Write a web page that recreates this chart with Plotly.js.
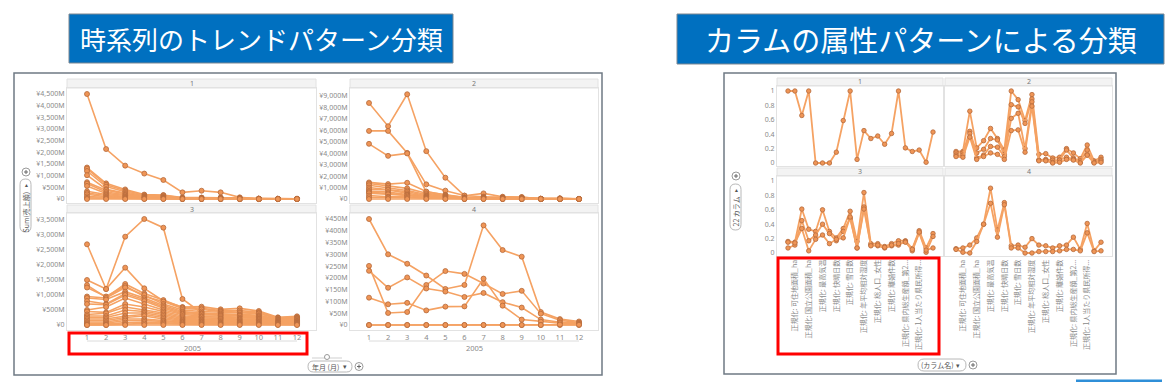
<!DOCTYPE html>
<html><head><meta charset="utf-8">
<script src="https://cdn.plot.ly/plotly-3.0.1.min.js"></script>
<style>html,body{margin:0;padding:0;background:#fff;}#chart{width:1175px;height:382px;}</style>
</head><body><div id="chart"></div>
<script>
// ---------- DATA ----------
const titleLeft = '時系列のトレンドパターン分類';
const titleRight = 'カラムの属性パターンによる分類';
const panelLabels = ['1', '2', '3', '4'];
const months = [1,2,3,4,5,6,7,8,9,10,11,12];
const yearLabel = '2005';
const leftAxisLabel = 'Sum(売上額)';
const leftAxisControl = '年月 (月)';
const rightAxisLabel = '22 カラム';
const rightAxisControl = '(カラム名)';

// monthly sales, million yen, cluster 1..4
const sales1 = [
  [4500,2140,1430,1090,815,285,355,285,70,10,10,10],
  [1350,670,410,190,170,60,60,60,40,20,10,10],
  [1300,610,360,160,150,50,50,50,30,10,10,10],
  [1200,530,310,130,120,45,45,45,25,10,5,5],
  [1020,420,260,110,90,35,35,35,20,5,5,5],
  [720,380,220,90,70,25,25,25,15,5,5,5],
  [660,300,180,75,60,20,20,20,10,5,0,0],
  [560,240,150,60,50,15,15,15,10,0,0,0],
  [330,190,110,50,40,10,10,10,5,0,0,0],
  [260,150,80,40,30,10,10,10,5,0,0,0],
  [200,100,60,30,20,5,5,5,0,0,0,0],
  [110,60,40,20,15,5,5,5,0,0,0,0],
  [50,30,20,10,10,0,0,0,0,0,0,0],
  [0,0,0,0,0,0,0,0,0,0,0,0]
];
const sales2 = [
  [8390,6360,9150,4180,1860,290,490,200,170,0,60,0],
  [5950,5950,4030,1280,730,300,200,150,150,30,40,20],
  [4820,3770,3980,620,360,150,150,100,100,20,30,10],
  [1450,1300,1420,650,350,120,120,90,80,20,20,10],
  [1350,1150,930,500,300,100,100,80,60,10,20,10],
  [1200,1000,750,400,250,80,80,70,50,10,10,5],
  [1000,850,640,300,200,60,70,60,40,5,10,5],
  [850,780,500,250,150,50,60,50,30,5,5,5],
  [700,600,400,200,120,40,50,40,20,0,5,0],
  [600,490,350,150,100,30,40,30,20,0,0,0],
  [500,400,300,120,80,20,30,20,10,0,0,0],
  [300,200,200,80,60,10,20,10,5,0,0,0],
  [150,120,100,50,40,5,10,5,0,0,0,0],
  [0,0,0,0,0,0,0,0,0,0,0,0]
];
const sales3 = [
  [2690,1200,2944,3533,3244,867,400,330,300,250,150,150],
  [1500,1200,1911,1222,800,600,611,522,555,467,255,289],
  [1330,920,1367,1050,830,580,560,480,480,430,240,260],
  [1250,950,1300,950,780,550,520,450,430,400,220,240],
  [950,900,1250,1000,700,500,450,420,400,380,200,220],
  [900,850,1111,900,650,450,400,380,350,330,180,200],
  [800,700,1050,850,600,420,380,350,320,300,170,180],
  [700,678,1000,800,560,380,350,320,300,280,150,160],
  [500,600,900,700,500,350,300,300,250,250,130,140],
  [450,420,700,600,450,300,280,260,220,220,120,120],
  [350,389,600,500,400,260,250,220,200,200,100,110],
  [300,300,500,450,350,220,200,200,180,180,90,100],
  [250,250,400,400,300,180,180,160,150,150,80,80],
  [200,200,300,350,250,150,150,130,120,120,70,70],
  [150,150,250,300,200,120,120,100,100,100,60,60],
  [100,100,200,200,150,100,100,80,80,80,50,50],
  [60,60,150,150,120,80,80,60,60,60,40,40],
  [30,30,80,100,80,50,50,40,40,40,20,20],
  [0,0,30,50,40,20,20,20,20,20,10,10],
  [0,0,0,0,0,0,0,0,0,0,0,0]
];
const sales4 = [
  [450,300,260,210,153,170,423,318,290,55,25,15],
  [251,51,55,170,229,217,176,132,145,48,20,10],
  [230,158,202,155,142,119,136,97,74,23,12,8],
  [116,88,94,62,78,79,197,82,23,14,8,5],
  [0,0,0,0,0,0,0,0,0,0,0,0],
  [0,0,0,0,0,0,0,0,0,0,2,1]
];
const salesTicks1 = [0,500,1000,1500,2000,2500,3000,3500,4000,4500];
const salesTicks2 = [0,1000,2000,3000,4000,5000,6000,7000,8000,9000];
const salesTicks3 = [0,500,1000,1500,2000,2500,3000,3500];
const salesTicks4 = [0,50,100,150,200,250,300,350,400,450];

// normalized column attributes, 22 columns
const columnNames = [
  '正規化: 総面積_ha','正規化: 可住地面積_ha','正規化: 森林面積_ha','正規化: 国立公園面積_ha',
  '正規化: 平均気温','正規化: 最高気温','正規化: 最低気温','正規化: 快晴日数',
  '正規化: 曇天日数','正規化: 雪日数','正規化: 年間降水量','正規化: 年平均相対湿度',
  '正規化: 総人口_男性','正規化: 総人口_女性','正規化: 婚姻件数','正規化: 離婚件数',
  '正規化: 県内総生産額_第1次産業','正規化: 県内総生産額_第2次産業','正規化: 県内総生産額_第3次産業',
  '正規化: 1人当たり県民所得_千円','正規化: 消費者物価指数','正規化: 完全失業率'
];
const columnTickText = [
  '正規化: 可住地面積_ha','正規化: 国立公園面積_ha','正規化: 最高気温','正規化: 快晴日数',
  '正規化: 雪日数','正規化: 年平均相対湿度','正規化: 総人口_女性','正規化: 離婚件数',
  '正規化: 県内総生産額_第2...','正規化: 1人当たり県民所得...'
];
const columnTickNames = [columnNames[1],columnNames[3],columnNames[5],columnNames[7],columnNames[9],
  columnNames[11],columnNames[13],columnNames[15],columnNames[17],columnNames[19]];
const norm1 = [
  [1,1,0.66,1,0,0,0,0.15,0.59,1,0.05,0.45,0.34,0.375,0.26,0.41,1,0.21,0.16,0.18,0.01,0.43]
];
const norm2 = [
  [0.16,0.16,0.72,0.21,0.31,0.48,0.34,0.18,1.00,0.88,0.59,0.95,0.12,0.13,0.07,0.08,0.20,0.14,0.06,0.25,0.03,0.08],
  [0.14,0.14,0.44,0.14,0.19,0.34,0.32,0.12,0.81,0.78,0.55,0.89,0.04,0.05,0.04,0.04,0.18,0.07,0.03,0.18,0.01,0.05],
  [0.11,0.11,0.41,0.07,0.11,0.23,0.22,0.09,0.62,0.69,0.20,0.85,0.04,0.04,0.01,0.04,0.08,0.05,0.01,0.11,0.01,0.03],
  [0.09,0.08,0.36,0.05,0.09,0.14,0.12,0.05,0.45,0.46,0.15,0.79,0.03,0.03,0.00,0.01,0.05,0.04,0.00,0.11,0.00,0.01]
];
const norm3 = [
  [0.16,0.15,0.61,0.33,0.30,0.60,0.30,0.21,0.34,0.58,0.16,0.84,0.13,0.13,0.09,0.13,0.17,0.17,0.06,0.31,0.07,0.27],
  [0.07,0.11,0.45,0.17,0.25,0.40,0.27,0.17,0.30,0.48,0.07,0.64,0.11,0.10,0.07,0.10,0.11,0.16,0.03,0.28,0.01,0.23],
  [0.15,0.14,0.34,0.03,0.19,0.25,0.13,0.19,0.21,0.50,0.07,0.61,0.10,0.11,0.08,0.11,0.13,0.15,0.05,0.29,0.04,0.07]
];
const norm4 = [
  [0.06,0.07,0.11,0.21,0.40,0.90,0.32,0.70,0.10,0.11,0.08,0.20,0.11,0.10,0.07,0.10,0.11,0.22,0.05,0.41,0.03,0.15],
  [0.05,0.01,0.00,0.16,0.40,0.69,0.22,0.67,0.07,0.07,0.00,0.00,0.02,0.02,0.02,0.03,0.05,0.05,0.03,0.28,0.02,0.03]
];
const normTicks = [0,0.2,0.4,0.6,0.8,1];
const normTickText = ['0','0.2','0.4','0.6','0.8','1'];

// ---------- STYLE / LAYOUT ----------
const W = 1175, H = 382;
const fx = p => p / W, fy = p => 1 - p / H;
const LINE = '#F5A263', MFILL = '#EF9556', MEDGE = '#B56A3B';
const FONT = '"Noto Sans", "Noto Sans CJK JP", sans-serif';
const JP = '"Noto Sans CJK JP", sans-serif';
const TICKC = '#8a8a8a';
function lin(v0, p0, v1, p1, pa, pb) { const k = (v1 - v0) / (p1 - p0); return [v0 + (pa - p0) * k, v0 + (pb - p0) * k]; }
const yen = v => v === 0 ? '¥0' : '¥' + v.toLocaleString('en-US') + 'M';

const traces = [];
function addSeries(list, xs, xa, ya, msize, lw) {
  list.forEach(s => traces.push({
    x: xs, y: s, xaxis: xa, yaxis: ya, type: 'scatter', mode: 'lines+markers',
    line: { color: LINE, width: lw }, marker: { size: msize, color: MFILL, line: { color: MEDGE, width: 0.8 } },
    showlegend: false, hoverinfo: 'skip'
  }));
}
addSeries(sales1, months, 'x', 'y', 5, 1.6);
addSeries(sales2, months, 'x2', 'y2', 5, 1.6);
addSeries(sales3, months, 'x3', 'y3', 5, 1.6);
addSeries(sales4, months, 'x4', 'y4', 5, 1.6);
addSeries(norm1, columnNames, 'x5', 'y5', 4.5, 1.8);
addSeries(norm2, columnNames, 'x6', 'y6', 4.5, 1.8);
addSeries(norm3, columnNames, 'x7', 'y7', 4.5, 1.8);
addSeries(norm4, columnNames, 'x8', 'y8', 4.5, 1.8);

const frame = { showline: true, mirror: true, linecolor: '#e2e2e2', linewidth: 1, showgrid: false, zeroline: false, ticks: '', fixedrange: true };
function xa(l, r, range, anchor, extra) { return Object.assign({}, frame, { domain: [fx(l), fx(r)], range: range, anchor: anchor, showticklabels: false }, extra || {}); }
function ya(t, b, range, anchor, extra) { return Object.assign({}, frame, { domain: [fy(b), fy(t)], range: range, anchor: anchor, showticklabels: false }, extra || {}); }
const yenTicks = tv => ({ showticklabels: true, tickvals: tv, ticktext: tv.map(yen), tickfont: { family: FONT, size: 7, color: TICKC } });
const monthTicks = { showticklabels: true, tickvals: months, ticktext: months.map(String), tickfont: { family: FONT, size: 7.5, color: TICKC } };
const normYTicks = { showticklabels: true, tickvals: normTicks, ticktext: normTickText, tickfont: { family: FONT, size: 7, color: TICKC } };
const colXTicks = { showticklabels: true, type: 'category', tickvals: columnTickNames, ticktext: columnTickText, tickangle: -90, tickfont: { family: JP, size: 7, color: TICKC } };

const xL1 = lin(1, 87, 12, 297, 67, 316), xL2 = lin(1, 369, 12, 579, 350, 598);
const xR1 = lin(0, 788, 21, 933, 777, 943), xR2 = lin(0, 956, 21, 1101, 945, 1112);

const layout = {
  width: W, height: H, margin: { l: 0, r: 0, t: 0, b: 0 }, paper_bgcolor: '#fff', plot_bgcolor: '#fff', showlegend: false,
  xaxis: xa(67, 316, xL1, 'y'),
  yaxis: ya(88, 203, lin(0, 199, 4500, 94, 203, 88), 'x', yenTicks(salesTicks1)),
  xaxis2: xa(350, 598, xL2, 'y2'),
  yaxis2: ya(88, 203, lin(0, 199, 9000, 96, 203, 88), 'x2', yenTicks(salesTicks2)),
  xaxis3: xa(67, 316, xL1, 'y3', monthTicks),
  yaxis3: ya(213, 330, lin(0, 325, 3500, 220, 330, 213), 'x3', yenTicks(salesTicks3)),
  xaxis4: xa(350, 598, xL2, 'y4', monthTicks),
  yaxis4: ya(213, 330, lin(0, 325, 450, 219, 330, 213), 'x4', yenTicks(salesTicks4)),
  xaxis5: xa(777, 943, xR1, 'y5', { type: 'category' }),
  yaxis5: ya(86, 166, lin(0, 163, 1, 91, 166, 86), 'x5', normYTicks),
  xaxis6: xa(945, 1112, xR2, 'y6', { type: 'category' }),
  yaxis6: ya(86, 166, lin(0, 163, 1, 91, 166, 86), 'x6'),
  xaxis7: xa(777, 943, xR1, 'y7', colXTicks),
  yaxis7: ya(176, 256, lin(0, 253, 1, 181, 256, 176), 'x7', normYTicks),
  xaxis8: xa(945, 1112, xR2, 'y8', colXTicks),
  yaxis8: ya(176, 256, lin(0, 253, 1, 181, 256, 176), 'x8'),
  shapes: [], annotations: []
};

const S = layout.shapes, A = layout.annotations;
function rect(x0, y0, x1, y1, fill, line, lw) { S.push({ type: 'rect', xref: 'paper', yref: 'paper', x0: fx(x0), x1: fx(x1), y0: fy(y1), y1: fy(y0), fillcolor: fill, line: { color: line, width: lw }, layer: 'below' }); }
function seg(x0, y0, x1, y1, c, w) { S.push({ type: 'line', xref: 'paper', yref: 'paper', x0: fx(x0), x1: fx(x1), y0: fy(y0), y1: fy(y1), line: { color: c, width: w } }); }
function text(x, y, t, size, color, fam, ang, xan) { A.push({ xref: 'paper', yref: 'paper', x: fx(x), y: fy(y), text: t, showarrow: false, textangle: ang || 0, xanchor: xan || 'center', yanchor: 'middle', font: { family: fam || FONT, size: size, color: color } }); }
function pill(x0, y0, x1, y1) {
  const P = (x, y) => fx(x) + ',' + fy(y);
  let d;
  if (x1 - x0 >= y1 - y0) { const r = (y1 - y0) / 2;
    d = 'M' + P(x0 + r, y0) + ' L' + P(x1 - r, y0) + ' Q' + P(x1, y0) + ' ' + P(x1, y0 + r) + ' Q' + P(x1, y1) + ' ' + P(x1 - r, y1) + ' L' + P(x0 + r, y1) + ' Q' + P(x0, y1) + ' ' + P(x0, y0 + r) + ' Q' + P(x0, y0) + ' ' + P(x0 + r, y0) + ' Z';
  } else { const r = (x1 - x0) / 2;
    d = 'M' + P(x0, y0 + r) + ' Q' + P(x0, y0) + ' ' + P(x0 + r, y0) + ' Q' + P(x1, y0) + ' ' + P(x1, y0 + r) + ' L' + P(x1, y1 - r) + ' Q' + P(x1, y1) + ' ' + P(x0 + r, y1) + ' Q' + P(x0, y1) + ' ' + P(x0, y1 - r) + ' Z';
  }
  S.push({ type: 'path', xref: 'paper', yref: 'paper', path: d, fillcolor: '#fff', line: { color: '#b8b8b8', width: 1 } });
}
function plus(cx, cy, r) {
  S.push({ type: 'circle', xref: 'paper', yref: 'paper', x0: fx(cx - r), x1: fx(cx + r), y0: fy(cy + r), y1: fy(cy - r), fillcolor: '#fff', line: { color: '#9a9a9a', width: 1 } });
  seg(cx - r * 0.5, cy, cx + r * 0.5, cy, '#666', 1); seg(cx, cy - r * 0.5, cx, cy + r * 0.5, '#666', 1);
}

// title boxes
rect(69, 14, 453, 63, '#0070C0', '#7d8791', 1);
text(261, 38.5, titleLeft, 26, '#ffffff', JP);
rect(677, 14, 1164, 64, '#0070C0', '#7d8791', 1);
text(920.5, 39, titleRight, 29, '#ffffff', JP);

// screenshot frames
rect(14, 73, 602, 375, 'rgba(0,0,0,0)', '#6f7a84', 1.5);
rect(724, 73, 1116, 374, 'rgba(0,0,0,0)', '#6f7a84', 1.5);

// strips
const strips = [[67, 316, 79, 88], [350, 598, 79, 88], [67, 316, 205, 213], [350, 598, 205, 213]];
strips.forEach((s, i) => { rect(s[0], s[2], s[1], s[3], '#f3f3f3', '#e2e2e2', 1); text((s[0] + s[1]) / 2, (s[2] + s[3]) / 2, panelLabels[i], 7, '#777', FONT); });
const stripsR = [[777, 943, 78, 86], [945, 1112, 78, 86], [777, 943, 168, 176], [945, 1112, 168, 176]];
stripsR.forEach((s, i) => { rect(s[0], s[2], s[1], s[3], '#f3f3f3', '#e2e2e2', 1); text((s[0] + s[1]) / 2, (s[2] + s[3]) / 2, panelLabels[i], 7, '#777', FONT); });

// year bracket
seg(87, 341, 297, 341, '#dcdcdc', 1); seg(369, 341, 579, 341, '#dcdcdc', 1);
text(192, 348, yearLabel, 7.5, TICKC, FONT); text(474, 348, yearLabel, 7.5, TICKC, FONT);

// left controls
plus(26, 172, 4);
pill(20, 179, 31, 232);
text(25.5, 212, leftAxisLabel, 7, '#555', JP, -90);
text(25.5, 185, '▸', 6, '#555', FONT, -90);
seg(312, 358, 342, 358, '#cfcfcf', 1);
S.push({ type: 'circle', xref: 'paper', yref: 'paper', x0: fx(324.5), x1: fx(329.5), y0: fy(359.5), y1: fy(354.5), fillcolor: '#fff', line: { color: '#999', width: 1 } });
pill(308, 361, 352, 372);
text(325, 366.5, leftAxisControl, 7, '#555', JP);
text(345, 366.5, '▾', 7, '#555', FONT);
plus(359, 366.5, 4);

// right controls
plus(736, 176, 4);
pill(730, 184, 741, 230);
text(735.5, 212, rightAxisLabel, 7, '#555', JP, -90);
text(735.5, 190, '▸', 6, '#555', FONT, -90);
pill(918, 359, 966, 371);
text(937, 365, rightAxisControl, 7, '#555', JP);
text(958, 365, '▾', 7, '#555', FONT);
plus(973, 365, 4);

// highlight boxes
S.push({ type: 'rect', xref: 'paper', yref: 'paper', x0: fx(69), x1: fx(307), y0: fy(354), y1: fy(333), line: { color: '#FF0000', width: 3 }, fillcolor: 'rgba(0,0,0,0)' });
S.push({ type: 'rect', xref: 'paper', yref: 'paper', x0: fx(778), x1: fx(939), y0: fy(354), y1: fy(258), line: { color: '#FF0000', width: 3 }, fillcolor: 'rgba(0,0,0,0)' });
// small blue bar bottom right
S.push({ type: 'rect', xref: 'paper', yref: 'paper', x0: fx(1076), x1: fx(1162), y0: fy(382), y1: fy(379.5), line: { width: 0 }, fillcolor: '#2f8fd8' });

Plotly.newPlot('chart', traces, layout, { staticPlot: true, displayModeBar: false });
</script></body></html>
